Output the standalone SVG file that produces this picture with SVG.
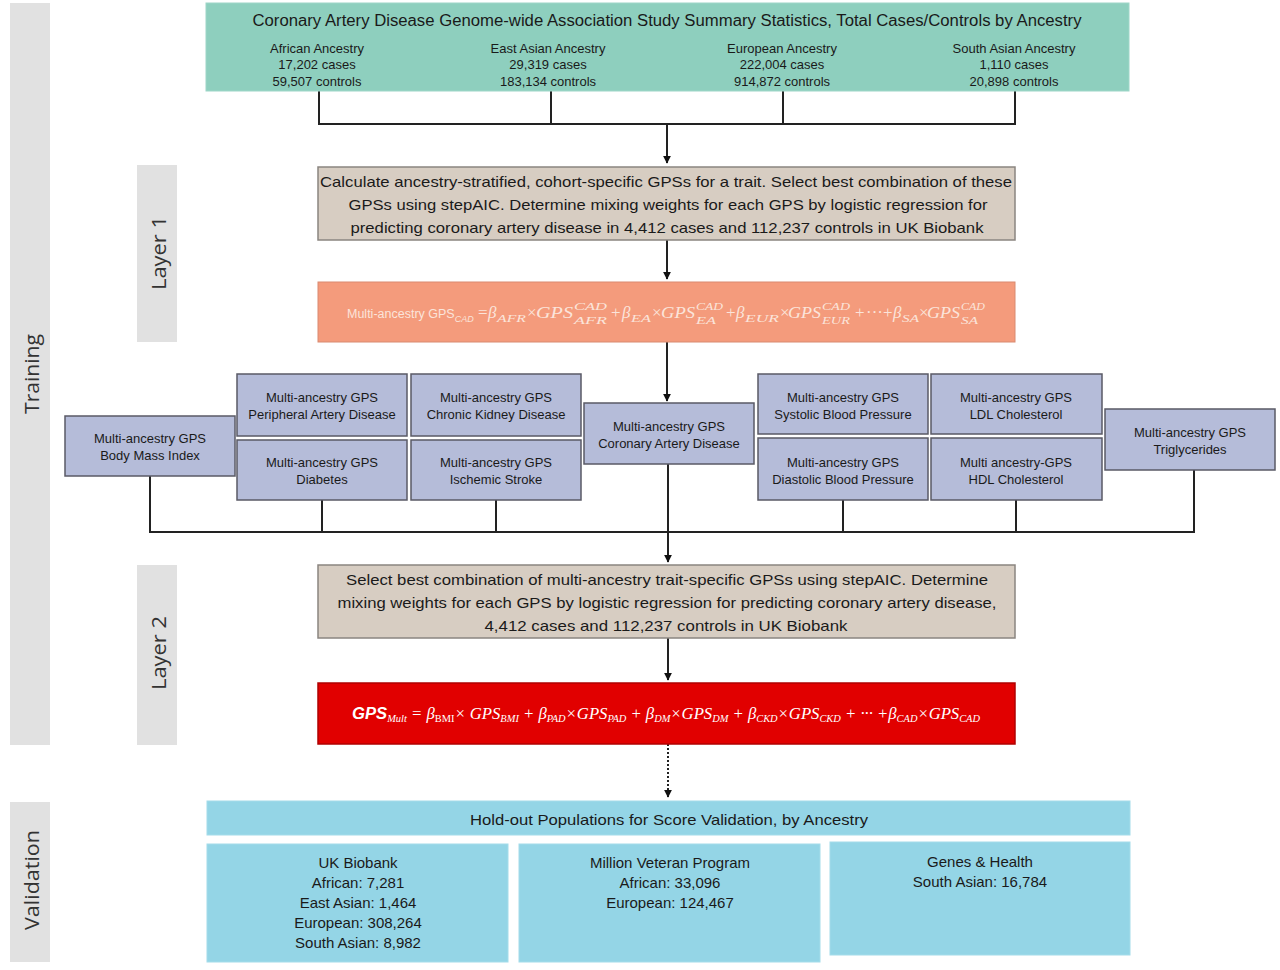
<svg xmlns="http://www.w3.org/2000/svg" width="1280" height="970" viewBox="0 0 1280 970">
<style>
text{font-family:"Liberation Sans Narrow","Liberation Sans",Arial,sans-serif;fill:#1a1a1a}
.side{fill:#e1e1e1}
.sidet{font-family:"Open Sans","Liberation Sans",sans-serif;font-size:20px;fill:#333;text-anchor:middle}
.teal{fill:#8ecfbe;stroke:#9ed6c8;stroke-width:1}
.tan{fill:#d7cdc2;stroke:#8a8580;stroke-width:1.5}
.node{fill:#b5bcd9;stroke:#5a5a66;stroke-width:1.5}
.blue{fill:#94d5e6;stroke:#a4dcea;stroke-width:1}
.nt{font-size:13px;text-anchor:middle}
.ct{font-size:13px;text-anchor:middle}
.lt{font-size:15px;text-anchor:middle}
.vt{font-size:15px;text-anchor:middle}
.conn{stroke:#222;stroke-width:2;fill:none}
.fs{fill:#fbe4da;font-size:12.5px}
.fop{fill:#fbe4da;font-family:"Liberation Serif",serif;font-size:17px}
.fo{font-family:"Liberation Serif",serif;font-style:italic;fill:#fbe4da}
.fr{font-family:"Liberation Serif",serif;font-style:italic;fill:#ffffff}
</style>
<defs>
<marker id="arr2" viewBox="0 0 10 10" refX="9" refY="5" markerWidth="8" markerHeight="8" orient="auto" markerUnits="userSpaceOnUse">
<path d="M0,0 L10,5 L0,10 z" fill="#111"/>
</marker>
</defs>
<rect width="1280" height="970" fill="#ffffff"/>

<g id="side-labels">
<rect class="side" x="10" y="3" width="40" height="742"/>
<text class="sidet" transform="translate(39,374) rotate(-90)" textLength="80" lengthAdjust="spacingAndGlyphs">Training</text>
<rect class="side" x="137" y="165" width="40" height="177"/>
<text class="sidet" transform="translate(166,253) rotate(-90)" textLength="74" lengthAdjust="spacingAndGlyphs">Layer 1</text>
<rect class="side" x="137" y="565" width="40" height="180"/>
<text class="sidet" transform="translate(166,653) rotate(-90)" textLength="74" lengthAdjust="spacingAndGlyphs">Layer 2</text>
<rect class="side" x="10" y="802" width="40" height="160"/>
<text class="sidet" transform="translate(39,880) rotate(-90)" textLength="100" lengthAdjust="spacingAndGlyphs">Validation</text>
</g>

<g id="connectors">
<path class="conn" d="M319,91 V124 M551,91 V124 M783,91 V124 M1015,91 V124 M318,124 H1016"/>
<path class="conn" d="M667,124 V163" marker-end="url(#arr2)"/>
<path class="conn" d="M667,240 V279" marker-end="url(#arr2)"/>
<path class="conn" d="M667,342 V401" marker-end="url(#arr2)"/>
<path class="conn" d="M150,476 V532 M322,500 V532 M496,500 V532 M668,464 V532 M843,500 V532 M1016,500 V532 M1194,470 V532 M149,532 H1195"/>
<path class="conn" d="M668,532 V562" marker-end="url(#arr2)"/>
<path class="conn" d="M668,638 V680" marker-end="url(#arr2)"/>
<path d="M668,744 V797" stroke="#222" stroke-width="2" stroke-dasharray="2,2" fill="none" marker-end="url(#arr2)"/>
</g>

<g id="gwas">
<rect class="teal" x="206" y="3" width="923" height="88"/>
<text x="667" y="26" font-size="16" text-anchor="middle" textLength="829" lengthAdjust="spacingAndGlyphs">Coronary Artery Disease Genome-wide Association Study Summary Statistics, Total Cases/Controls by Ancestry</text>
<text class="ct" x="317" y="53">African Ancestry</text>
<text class="ct" x="317" y="69">17,202 cases</text>
<text class="ct" x="317" y="86">59,507 controls</text>
<text class="ct" x="548" y="53">East Asian Ancestry</text>
<text class="ct" x="548" y="69">29,319 cases</text>
<text class="ct" x="548" y="86">183,134 controls</text>
<text class="ct" x="782" y="53">European Ancestry</text>
<text class="ct" x="782" y="69">222,004 cases</text>
<text class="ct" x="782" y="86">914,872 controls</text>
<text class="ct" x="1014" y="53">South Asian Ancestry</text>
<text class="ct" x="1014" y="69">1,110 cases</text>
<text class="ct" x="1014" y="86">20,898 controls</text>
</g>

<g id="layer1">
<rect class="tan" x="318" y="167" width="697" height="73"/>
<text class="lt" x="666" y="187" textLength="692" lengthAdjust="spacingAndGlyphs">Calculate ancestry-stratified, cohort-specific GPSs for a trait. Select best combination of these</text>
<text class="lt" x="668" y="210" textLength="639" lengthAdjust="spacingAndGlyphs">GPSs using stepAIC. Determine mixing weights for each GPS by logistic regression for</text>
<text class="lt" x="667" y="233" textLength="633" lengthAdjust="spacingAndGlyphs">predicting coronary artery disease in 4,412 cases and 112,237 controls in UK Biobank</text>
</g>

<g id="formula1">
<rect x="318" y="282" width="697" height="60" fill="#f49b7c" stroke="#d98a70" stroke-width="1"/>
<text class="fs" x="347" y="318">Multi-ancestry GPS<tspan dy="4" style="font-size:9px;font-style:italic">CAD</tspan></text>
<text class="fop" x="478" y="318">=</text>
<text class="fo" x="488" y="318" font-size="17">β</text>
<text class="fo" x="497" y="322" font-size="11" textLength="29" lengthAdjust="spacingAndGlyphs">AFR</text>
<text class="fop" x="527" y="318">×</text>
<text class="fo" x="536" y="318" font-size="17" textLength="37" lengthAdjust="spacingAndGlyphs">GPS</text>
<text class="fo" x="574" y="310" font-size="11" textLength="33" lengthAdjust="spacingAndGlyphs">CAD</text>
<text class="fo" x="574" y="324" font-size="11" textLength="33" lengthAdjust="spacingAndGlyphs">AFR</text>
<text class="fop" x="611" y="318">+</text>
<text class="fo" x="622" y="318" font-size="17">β</text>
<text class="fo" x="631" y="322" font-size="11" textLength="20" lengthAdjust="spacingAndGlyphs">EA</text>
<text class="fop" x="652" y="318">×</text>
<text class="fo" x="661" y="318" font-size="17" textLength="34" lengthAdjust="spacingAndGlyphs">GPS</text>
<text class="fo" x="696" y="310" font-size="11" textLength="27" lengthAdjust="spacingAndGlyphs">CAD</text>
<text class="fo" x="696" y="324" font-size="11" textLength="20" lengthAdjust="spacingAndGlyphs">EA</text>
<text class="fop" x="726" y="318">+</text>
<text class="fo" x="736" y="318" font-size="17">β</text>
<text class="fo" x="745" y="322" font-size="11" textLength="34" lengthAdjust="spacingAndGlyphs">EUR</text>
<text class="fop" x="780" y="318">×</text>
<text class="fo" x="788" y="318" font-size="17" textLength="33" lengthAdjust="spacingAndGlyphs">GPS</text>
<text class="fo" x="822" y="310" font-size="11" textLength="28" lengthAdjust="spacingAndGlyphs">CAD</text>
<text class="fo" x="822" y="324" font-size="11" textLength="28" lengthAdjust="spacingAndGlyphs">EUR</text>
<text class="fop" x="855" y="318">+</text>
<text class="fop" x="866" y="318">···</text>
<text class="fop" x="883" y="318">+</text>
<text class="fo" x="893" y="318" font-size="17">β</text>
<text class="fo" x="902" y="322" font-size="11" textLength="17" lengthAdjust="spacingAndGlyphs">SA</text>
<text class="fop" x="919" y="318">×</text>
<text class="fo" x="927" y="318" font-size="17" textLength="33" lengthAdjust="spacingAndGlyphs">GPS</text>
<text class="fo" x="961" y="310" font-size="11" textLength="24" lengthAdjust="spacingAndGlyphs">CAD</text>
<text class="fo" x="961" y="324" font-size="11" textLength="17" lengthAdjust="spacingAndGlyphs">SA</text>
</g>

<g id="node-bmi">
<rect class="node" x="65" y="416" width="170" height="60"/>
<text class="nt" x="150" y="443">Multi-ancestry GPS</text>
<text class="nt" x="150" y="460">Body Mass Index</text>
</g>
<g id="node-pad">
<rect class="node" x="237" y="374" width="170" height="62"/>
<text class="nt" x="322" y="402">Multi-ancestry GPS</text>
<text class="nt" x="322" y="419">Peripheral Artery Disease</text>
</g>
<g id="node-dm">
<rect class="node" x="237" y="440" width="170" height="60"/>
<text class="nt" x="322" y="467">Multi-ancestry GPS</text>
<text class="nt" x="322" y="484">Diabetes</text>
</g>
<g id="node-ckd">
<rect class="node" x="411" y="374" width="170" height="62"/>
<text class="nt" x="496" y="402">Multi-ancestry GPS</text>
<text class="nt" x="496" y="419">Chronic Kidney Disease</text>
</g>
<g id="node-is">
<rect class="node" x="411" y="440" width="170" height="60"/>
<text class="nt" x="496" y="467">Multi-ancestry GPS</text>
<text class="nt" x="496" y="484">Ischemic Stroke</text>
</g>
<g id="node-cad">
<rect class="node" x="584" y="403" width="170" height="61"/>
<text class="nt" x="669" y="431">Multi-ancestry GPS</text>
<text class="nt" x="669" y="448">Coronary Artery Disease</text>
</g>
<g id="node-sbp">
<rect class="node" x="758" y="374" width="170" height="60"/>
<text class="nt" x="843" y="402">Multi-ancestry GPS</text>
<text class="nt" x="843" y="419">Systolic Blood Pressure</text>
</g>
<g id="node-dbp">
<rect class="node" x="758" y="438" width="170" height="62"/>
<text class="nt" x="843" y="467">Multi-ancestry GPS</text>
<text class="nt" x="843" y="484">Diastolic Blood Pressure</text>
</g>
<g id="node-ldl">
<rect class="node" x="931" y="374" width="171" height="60"/>
<text class="nt" x="1016" y="402">Multi-ancestry GPS</text>
<text class="nt" x="1016" y="419">LDL Cholesterol</text>
</g>
<g id="node-hdl">
<rect class="node" x="931" y="438" width="171" height="62"/>
<text class="nt" x="1016" y="467">Multi ancestry-GPS</text>
<text class="nt" x="1016" y="484">HDL Cholesterol</text>
</g>
<g id="node-tg">
<rect class="node" x="1105" y="409" width="170" height="61"/>
<text class="nt" x="1190" y="437">Multi-ancestry GPS</text>
<text class="nt" x="1190" y="454">Triglycerides</text>
</g>

<g id="layer2">
<rect class="tan" x="318" y="565" width="697" height="73"/>
<text class="lt" x="667" y="585" textLength="642" lengthAdjust="spacingAndGlyphs">Select best combination of multi-ancestry trait-specific GPSs using stepAIC. Determine</text>
<text class="lt" x="667" y="608" textLength="659" lengthAdjust="spacingAndGlyphs">mixing weights for each GPS by logistic regression for predicting coronary artery disease,</text>
<text class="lt" x="666" y="631" textLength="363" lengthAdjust="spacingAndGlyphs">4,412 cases and 112,237 controls in UK Biobank</text>
</g>

<g id="formula2">
<rect x="318" y="683" width="697" height="61" fill="#e10000" stroke="#b00000" stroke-width="1.5"/>
<text class="fr" x="352" y="719" font-size="16" textLength="628" lengthAdjust="spacingAndGlyphs"><tspan font-family="Liberation Sans,sans-serif" font-weight="bold">GPS</tspan><tspan font-size="10" dy="3">Mult</tspan><tspan dy="-3"> = β</tspan><tspan font-size="10" dy="3" font-style="normal">BMI</tspan><tspan dy="-3">× GPS</tspan><tspan font-size="10" dy="3">BMI</tspan><tspan dy="-3"> + β</tspan><tspan font-size="10" dy="3">PAD</tspan><tspan dy="-3">×GPS</tspan><tspan font-size="10" dy="3">PAD</tspan><tspan dy="-3"> + β</tspan><tspan font-size="10" dy="3">DM</tspan><tspan dy="-3">×GPS</tspan><tspan font-size="10" dy="3">DM</tspan><tspan dy="-3"> + β</tspan><tspan font-size="10" dy="3">CKD</tspan><tspan dy="-3">×GPS</tspan><tspan font-size="10" dy="3">CKD</tspan><tspan dy="-3"> + ··· +β</tspan><tspan font-size="10" dy="3">CAD</tspan><tspan dy="-3">×GPS</tspan><tspan font-size="10" dy="3">CAD</tspan></text>
</g>

<g id="validation-header">
<rect class="blue" x="207" y="801" width="923" height="34"/>
<text class="vt" x="669" y="825" textLength="398" lengthAdjust="spacingAndGlyphs">Hold-out Populations for Score Validation, by Ancestry</text>
</g>
<g id="val-ukb">
<rect class="blue" x="207" y="844" width="301" height="118"/>
<text class="vt" x="358" y="868">UK Biobank</text>
<text class="vt" x="358" y="888">African: 7,281</text>
<text class="vt" x="358" y="908">East Asian: 1,464</text>
<text class="vt" x="358" y="928">European: 308,264</text>
<text class="vt" x="358" y="948">South Asian: 8,982</text>
</g>
<g id="val-mvp">
<rect class="blue" x="519" y="844" width="301" height="118"/>
<text class="vt" x="670" y="868">Million Veteran Program</text>
<text class="vt" x="670" y="888">African: 33,096</text>
<text class="vt" x="670" y="908">European: 124,467</text>
</g>
<g id="val-gh">
<rect class="blue" x="830" y="842" width="300" height="113"/>
<text class="vt" x="980" y="867">Genes &amp; Health</text>
<text class="vt" x="980" y="887">South Asian: 16,784</text>
</g>
</svg>
